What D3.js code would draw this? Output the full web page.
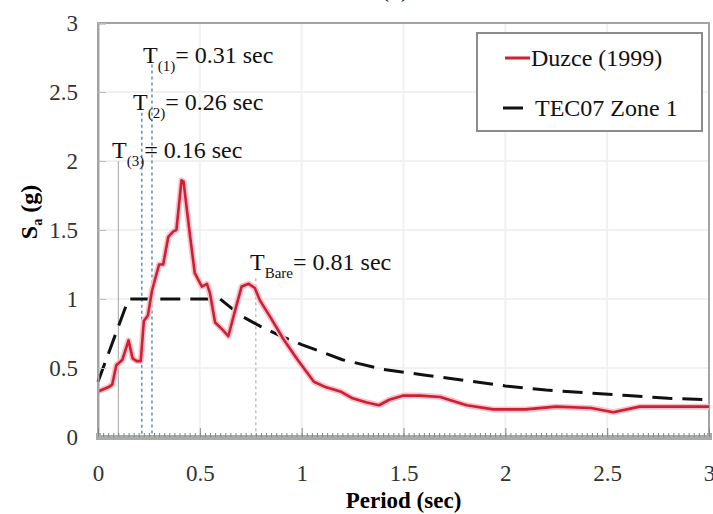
<!DOCTYPE html>
<meta charset="utf-8">
<html>
<head>
  <title>Duzce spectrum</title>
  <script src="https://d3js.org/d3.v7.min.js"></script>
  <style type="text/css">
  body { margin: 0; background: #fff; }
  text { font-family: "Liberation Serif", "Times New Roman", serif; }
  .tick text { fill: #333; font-size: 23px; }
  </style>
</head>
<body>
<script>
// ---- data ----
var duzceT  = [0, 0.05, 0.07, 0.09, 0.12, 0.15, 0.17, 0.19, 0.21, 0.225, 0.245, 0.265, 0.30, 0.32, 0.345, 0.37, 0.385, 0.41, 0.42, 0.45, 0.475, 0.51, 0.535, 0.55, 0.575, 0.61, 0.64, 0.67, 0.705, 0.74, 0.77, 0.795, 0.85, 0.91, 0.98, 1.06, 1.12, 1.19, 1.25, 1.32, 1.38, 1.43, 1.5, 1.58, 1.68, 1.81, 1.94, 2.1, 2.25, 2.42, 2.53, 2.66, 2.82, 3.0];
var duzceSa = [0.33, 0.36, 0.38, 0.52, 0.56, 0.70, 0.57, 0.55, 0.55, 0.84, 0.88, 1.06, 1.25, 1.25, 1.45, 1.49, 1.50, 1.86, 1.85, 1.48, 1.19, 1.09, 1.11, 1.04, 0.83, 0.78, 0.73, 0.90, 1.09, 1.11, 1.08, 0.99, 0.86, 0.71, 0.56, 0.40, 0.36, 0.33, 0.28, 0.25, 0.23, 0.27, 0.30, 0.30, 0.29, 0.23, 0.20, 0.20, 0.22, 0.21, 0.18, 0.22, 0.22, 0.22];

var tecT  = [0, 0.15, 0.6, 0.7, 0.8, 0.9, 1.0, 1.2, 1.4, 1.6, 1.8, 2.0, 2.2, 2.4, 2.6, 2.8, 3.0];
var tecSa = [0.40, 1.00, 1.00, 0.88, 0.80, 0.73, 0.67, 0.56, 0.49, 0.45, 0.41, 0.37, 0.34, 0.32, 0.30, 0.28, 0.27];

// period markers: where the line stands, where it starts, and its label
var markerT    = [0.265, 0.215, 0.10, 0.775];
var markerTop  = [2.7, 2.35, 2.0, 1.15];
var markerSub  = ["(1)", "(2)", "(3)", "Bare"];
var markerText = ["= 0.31 sec", "= 0.26 sec", "= 0.16 sec", "= 0.81 sec"];

var xTicks = [0, 0.5, 1, 1.5, 2, 2.5, 3];
var yTicks = [0, 0.5, 1, 1.5, 2, 2.5, 3];

var duzce = duzceT.map(function(t, i){ return {t: t, v: duzceSa[i]}; });
var tec = tecT.map(function(t, i){ return {t: t, v: tecSa[i]}; });

var W = 713, H = 514;
var svg = d3.select("body").append("svg").attr("width", W).attr("height", H);

var x = d3.scaleLinear().domain([0, 3]).range([98, 709]),
    y = d3.scaleLinear().domain([0, 3]).range([437, 23]);

// faint grid
svg.append("g").selectAll("line").data(yTicks.slice(1, -1)).enter().append("line")
    .attr("x1", x(0)).attr("x2", x(3))
    .attr("y1", function(d){ return y(d); }).attr("y2", function(d){ return y(d); })
    .attr("stroke", "#f1f1f1").attr("stroke-width", 2);
svg.append("g").selectAll("line").data(xTicks.slice(1, -1)).enter().append("line")
    .attr("y1", y(0)).attr("y2", y(3))
    .attr("x1", function(d){ return x(d); }).attr("x2", function(d){ return x(d); })
    .attr("stroke", "#f1f1f1").attr("stroke-width", 2);

// frame
svg.append("rect")
    .attr("x", x(0)).attr("y", y(3))
    .attr("width", x(3) - x(0)).attr("height", y(0) - y(3))
    .attr("fill", "none").attr("stroke", "#a3a3a3").attr("stroke-width", 2);

// marker lines
var mk = svg.append("g");
mk.selectAll("line").data(markerT).enter().append("line")
    .attr("x1", function(d){ return x(d); }).attr("x2", function(d){ return x(d); })
    .attr("y1", function(d, i){ return y(markerTop[i]); })
    .attr("y2", y(0))
    .attr("stroke", function(d, i){ return i < 2 ? "#6f93bd" : "#aaa"; })
    .attr("stroke-width", function(d, i){ return i < 2 ? 1.6 : 1.1; })
    .attr("stroke-dasharray", function(d, i){ return i == 2 ? null : "3,3"; });

// TEC07 design spectrum
var line = d3.line().x(function(d){ return x(d.t); }).y(function(d){ return y(d.v); });

svg.append("path").datum(tec)
    .attr("d", line)
    .attr("fill", "none").attr("stroke", "#111")
    .attr("stroke-width", 3).attr("stroke-dasharray", "20,10");

// Duzce record, soft halo then line
svg.append("path").datum(duzce)
    .attr("d", line)
    .attr("fill", "none").attr("stroke", "#f6c3cc")
    .attr("stroke-width", 6).attr("stroke-linejoin", "round");
svg.append("path").datum(duzce)
    .attr("d", line)
    .attr("fill", "none").attr("stroke", "#cf1f33")
    .attr("stroke-width", 2.6).attr("stroke-linejoin", "round");

// axes
var yAxis = svg.append("g").attr("transform", "translate(" + x(0) + ",0)")
    .call(d3.axisLeft(y).tickValues(yTicks).tickFormat(d3.format("")).tickSize(-8).tickPadding(20));
yAxis.select(".domain").attr("stroke", "#a3a3a3").attr("stroke-width", 2);
yAxis.selectAll(".tick line").attr("stroke", "#bbb");

var minor = d3.range(0, 3.001, 0.025);
var xMinor = svg.append("g").attr("transform", "translate(0," + y(0) + ")")
    .call(d3.axisBottom(x).tickValues(minor).tickFormat("").tickSize(-4));
xMinor.select(".domain").attr("stroke", "#a8aca8").attr("stroke-width", 5);
xMinor.selectAll(".tick line").attr("stroke", "#7f8580").attr("stroke-width", 1);

var xAxis = svg.append("g").attr("transform", "translate(0," + y(0) + ")")
    .call(d3.axisBottom(x).tickValues(xTicks).tickFormat(d3.format("")).tickSize(-9).tickPadding(28));
xAxis.select(".domain").remove();
xAxis.selectAll(".tick line").attr("stroke", "#888");

// marker labels
var lab = svg.append("g").selectAll("text").data(markerT).enter().append("text")
    .attr("x", function(d, i){ return [143, 133, 112, 250][i]; })
    .attr("y", function(d, i){ return [63, 110, 158, 270][i]; })
    .attr("font-size", 24).attr("fill", "#111");
lab.append("tspan").text("T");
lab.append("tspan").attr("font-size", 15).attr("dy", 8).text(function(d, i){ return markerSub[i]; });
lab.append("tspan").attr("dy", -8).text(function(d, i){ return markerText[i]; });

// axis titles
svg.append("text")
    .attr("x", (x(0) + x(3)) / 2).attr("y", 508)
    .attr("text-anchor", "middle").attr("font-weight", "bold").attr("font-size", 23)
    .text("Period (sec)");

var yl = svg.append("text")
    .attr("transform", "translate(37,212) rotate(-90)")
    .attr("text-anchor", "middle").attr("font-weight", "bold").attr("font-size", 24);
yl.append("tspan").text("S");
yl.append("tspan").attr("font-size", 14).attr("dy", 5).text("a");
yl.append("tspan").attr("dy", -5).text(" (g)");

// legend
var lg = svg.append("g");
lg.append("rect").attr("x", 477).attr("y", 33).attr("width", 225).attr("height", 98)
    .attr("fill", "#fff").attr("stroke", "#8c8c8c").attr("stroke-width", 2);
lg.append("line").attr("x1", 505).attr("x2", 530).attr("y1", 58).attr("y2", 58)
    .attr("stroke", "#cf1f33").attr("stroke-width", 3);
lg.append("text").attr("x", 531).attr("y", 66).attr("font-size", 24).attr("fill", "#111").text("Duzce (1999)");
lg.append("line").attr("x1", 503).attr("x2", 523).attr("y1", 108).attr("y2", 108)
    .attr("stroke", "#111").attr("stroke-width", 3);
lg.append("text").attr("x", 535).attr("y", 116).attr("font-size", 24).attr("fill", "#111").text("TEC07 Zone 1");

// panel letter, cut at the top edge
svg.append("text").attr("x", 395).attr("y", -3).attr("text-anchor", "middle")
    .attr("font-size", 24).text("(b)");
</script>
</body>
</html>
